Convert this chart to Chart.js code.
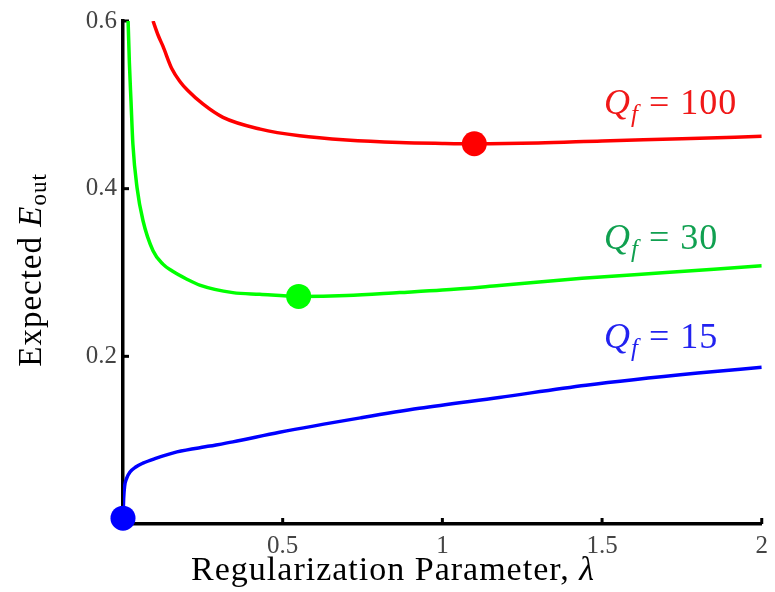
<!DOCTYPE html>
<html>
<head>
<meta charset="utf-8">
<script src="https://cdn.jsdelivr.net/npm/chart.js@4.4.1/dist/chart.umd.min.js"></script>
<style>
  html, body { margin: 0; padding: 0; background: #fff; }
</style>
</head>
<body>
<canvas id="chart" width="775" height="592"></canvas>
<script>
// Q_f = 100
const lambdaQ100 = [0.094, 0.11, 0.125, 0.153, 0.18, 0.203, 0.25, 0.313, 0.43, 0.553, 0.7, 0.866, 1.0, 1.1, 1.3, 1.5, 1.75, 2.0];
const eoutQ100 = [0.6, 0.583, 0.57, 0.543, 0.527, 0.517, 0.501, 0.485, 0.471, 0.463, 0.458, 0.455, 0.454, 0.4536, 0.4545, 0.457, 0.4595, 0.4625];

// Q_f = 30
const lambdaQ30 = [0.016, 0.02, 0.025, 0.031, 0.044, 0.0625, 0.094, 0.125, 0.153, 0.2, 0.24, 0.344, 0.428, 0.55, 0.7, 0.866, 1.0, 1.178, 1.4375, 1.7, 2.0];
const eoutQ30 = [0.6, 0.55, 0.505, 0.453, 0.401, 0.362, 0.326, 0.31, 0.302, 0.292, 0.285, 0.276, 0.274, 0.2715, 0.2725, 0.276, 0.279, 0.2845, 0.293, 0.3, 0.308];

// Q_f = 15
const lambdaQ15 = [0, 0.002, 0.005, 0.012, 0.022, 0.04, 0.0625, 0.1, 0.169, 0.272, 0.344, 0.49, 0.75, 0.928, 1.178, 1.45, 1.8, 2.0];
const eoutQ15 = [0.007, 0.03, 0.045, 0.055, 0.062, 0.068, 0.0726, 0.078, 0.086, 0.093, 0.098, 0.1095, 0.127, 0.138, 0.151, 0.1655, 0.18, 0.187];

// optimal lambda for each target complexity
const seriesNames = ["100", "30", "15"];
const optLambda = [1.1, 0.55, 0];
const optEout = [0.4536, 0.2715, 0.007];

const xTicks = [0.5, 1, 1.5, 2];
const yTicks = [0.2, 0.4, 0.6];

const lineColors = ["#ff0000", "#00ff00", "#0000ff"];
const textColors = ["#f01818", "#10a050", "#2222f0"];

// where the "Q_f = ..." labels sit (data coords)
const labelLambda = 1.506;
const labelEout = [0.489, 0.3286, 0.2095];

const toPoints = (xs, ys) => xs.map((x, i) => ({ x, y: ys[i] }));

const serif = "'Liberation Serif', 'DejaVu Serif', serif";

// draws pieces of text one after another (for italics and subscripts)
const drawRuns = (ctx, runs, x, y) => {
  let cx = x;
  runs.forEach(r => {
    ctx.font = r.font;
    ctx.fillText(r.t, cx, y + (r.dy || 0));
    cx += ctx.measureText(r.t).width;
  });
  return cx - x;
};
const runsWidth = (ctx, runs) => runs.reduce((w, r) => {
  ctx.font = r.font;
  return w + ctx.measureText(r.t).width;
}, 0);

const decorPlugin = {
  id: "decor",
  beforeDatasetsDraw(chart) {
    const { ctx, chartArea, scales: { x, y } } = chart;
    ctx.save();
    ctx.strokeStyle = "#000";
    ctx.lineWidth = 3;
    // inward ticks
    yTicks.forEach(v => {
      const py = y.getPixelForValue(v);
      ctx.beginPath();
      ctx.moveTo(chartArea.left, py);
      ctx.lineTo(chartArea.left + 6, py);
      ctx.stroke();
    });
    xTicks.forEach(v => {
      const px = x.getPixelForValue(v);
      ctx.beginPath();
      ctx.moveTo(px, chartArea.bottom);
      ctx.lineTo(px, chartArea.bottom - 6);
      ctx.stroke();
    });
    ctx.restore();
  },
  afterDraw(chart) {
    const { ctx, scales: { x, y } } = chart;
    ctx.save();
    ctx.textBaseline = "alphabetic";
    ctx.textAlign = "left";

    // curve labels
    ctx.letterSpacing = "1px";
    seriesNames.forEach((name, i) => {
      ctx.fillStyle = textColors[i];
      drawRuns(ctx, [
        { t: "Q", font: "italic 36px " + serif },
        { t: "f", font: "italic 25px " + serif, dy: 8 },
        { t: " = " + name, font: "36px " + serif }
      ], x.getPixelForValue(labelLambda), y.getPixelForValue(labelEout[i]));
    });

    // x title
    ctx.fillStyle = "#000";
    const xRuns = [
      { t: "Regularization Parameter, ", font: "34px " + serif },
      { t: "λ", font: "italic 34px " + serif }
    ];
    drawRuns(ctx, xRuns, 393 - runsWidth(ctx, xRuns) / 2, 580);

    // y title
    const yRuns = [
      { t: "Expected ", font: "33px " + serif },
      { t: "E", font: "italic 33px " + serif },
      { t: "out", font: "23px " + serif, dy: 5 }
    ];
    ctx.translate(41, 270);
    ctx.rotate(-Math.PI / 2);
    drawRuns(ctx, yRuns, -runsWidth(ctx, yRuns) / 2, 0);
    ctx.restore();
  }
};

const lineSet = (xs, ys, i) => ({
  type: "line",
  data: toPoints(xs, ys),
  borderColor: lineColors[i],
  borderWidth: 3.5,
  pointRadius: 0,
  fill: false,
  cubicInterpolationMode: "monotone",
  order: 1
});

const dotSet = i => ({
  type: "scatter",
  data: [{ x: optLambda[i], y: optEout[i] }],
  backgroundColor: lineColors[i],
  borderWidth: 0,
  pointRadius: 12.5,
  clip: false,
  order: 0
});

new Chart(document.getElementById("chart"), {
  type: "line",
  data: {
    datasets: [
      lineSet(lambdaQ100, eoutQ100, 0),
      lineSet(lambdaQ30, eoutQ30, 1),
      lineSet(lambdaQ15, eoutQ15, 2),
      dotSet(0), dotSet(1), dotSet(2)
    ]
  },
  options: {
    responsive: false,
    animation: false,
    devicePixelRatio: 1,
    events: [],
    layout: { padding: { top: 19, right: 12, left: 0, bottom: 0 } },
    plugins: { legend: { display: false }, tooltip: { enabled: false } },
    scales: {
      x: {
        type: "linear",
        min: 0,
        max: 2,
        afterFit: s => { s.height = 68; },
        afterBuildTicks: s => { s.ticks = xTicks.map(v => ({ value: v })); },
        grid: { display: false, drawTicks: false },
        border: { display: true, color: "#000", width: 3.5 },
        ticks: {
          color: "#444",
          padding: 7,
          maxRotation: 0,
          font: { family: serif, size: 25 },
          callback: v => String(v)
        }
      },
      y: {
        type: "linear",
        min: 0,
        max: 0.6,
        afterFit: s => { s.width = 123; },
        afterBuildTicks: s => { s.ticks = yTicks.map(v => ({ value: v })); },
        grid: { display: false, drawTicks: false },
        border: { display: true, color: "#000", width: 3.5 },
        ticks: {
          color: "#444",
          padding: 6,
          font: { family: serif, size: 25 },
          callback: v => String(v)
        }
      }
    }
  },
  plugins: [decorPlugin]
});
</script>
</body>
</html>
